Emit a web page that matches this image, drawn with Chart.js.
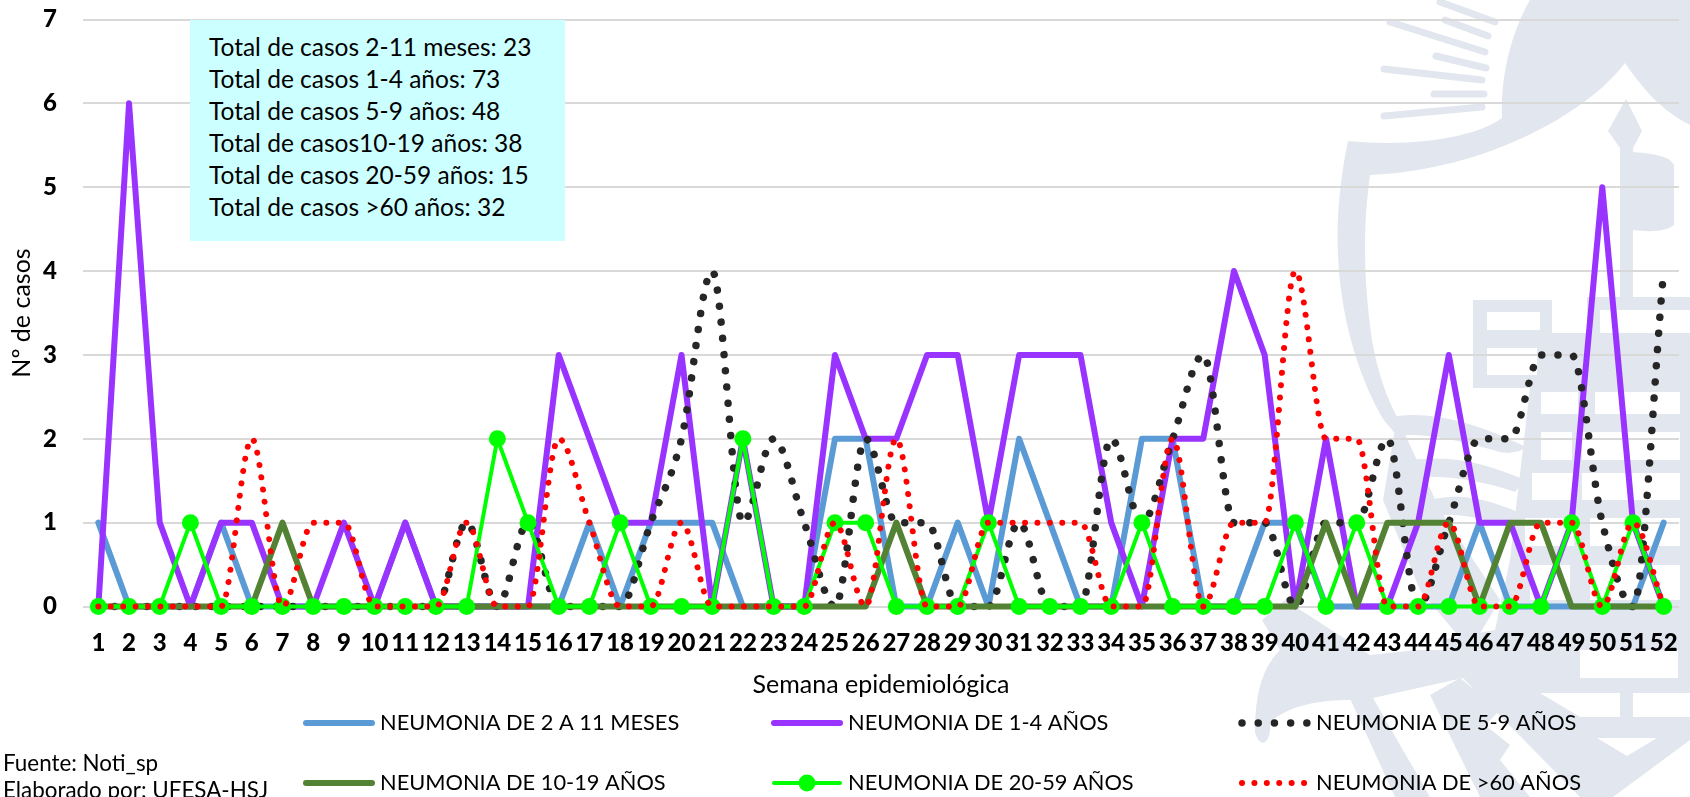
<!DOCTYPE html>
<html><head><meta charset="utf-8">
<script src="https://cdn.jsdelivr.net/npm/chart.js@4/dist/chart.umd.min.js"></script>
<style>
html,body{margin:0;padding:0;background:#fff;overflow:hidden}
#wrap{position:relative;width:1690px;height:797px;overflow:hidden;font-family:Lato,sans-serif;color:#000}
#wm{position:absolute;left:0;top:0}
canvas{position:absolute;left:0;top:0}
.t{position:absolute;white-space:nowrap;line-height:30px;font-size:22.4px}
#box{position:absolute;left:190px;top:20px;width:375px;height:221px;background:#ccffff}
#box div{position:absolute;left:19px;font-size:24.5px;line-height:32px;white-space:nowrap}
</style></head><body>
<div id="wrap">
<svg id="wm" width="1690" height="797" fill="#e2e6ee">
<path d="M1338 254C1336 210 1342 170 1348 141C1420 148 1480 135 1502 118C1500 70 1515 25 1530 0H1690V125C1660 110 1640 85 1625 63C1590 110 1490 170 1370 175C1364 220 1362 270 1372 340C1378 375 1388 400 1397 417L1383 419C1355 370 1340 310 1338 254Z"/>
<g stroke="#e2e6ee" stroke-width="7" stroke-linecap="round" fill="none">
<path d="M1390 22L1485 52"/><path d="M1445 20L1488 36"/><path d="M1440 2L1495 22"/><path d="M1436 56L1486 68"/><path d="M1384 69L1482 80"/><path d="M1434 94L1484 94"/><path d="M1384 116L1482 107"/>
</g>
<path d="M1626 99L1642 131L1633 148V390H1620V148L1608 131Z"/>
<path d="M1633 152C1660 154 1672 158 1674 166V225C1665 232 1650 232 1633 230Z"/>
<path d="M1473 300H1552V333H1690V390H1530V388H1473Z"/>
<path d="M1587 297H1690V333H1587Z"/>
<path d="M1530 388H1690V740L1613 797H1580L1463 678L1440 640L1495 630L1510 560Z"/>
<path d="M1383 419C1420 408 1470 420 1522 445C1530 450 1510 455 1500 452C1460 440 1420 432 1397 436Z"/>
<path d="M1400 462C1450 452 1490 465 1525 480L1515 492C1480 480 1440 474 1408 478Z"/>
<path d="M1430 500C1470 490 1500 505 1525 515L1515 530C1490 520 1460 512 1438 516Z"/>
<path d="M1397 417L1440 510L1500 600L1470 650L1420 590L1383 500Z"/>
<path d="M1255 733C1255 700 1260 670 1280 650L1262 620L1285 600L1370 655L1417 650L1463 650L1463 678L1373 698L1350 700C1320 700 1290 705 1270 722C1272 740 1262 752 1255 733Z"/>
<path d="M1343 683L1373 698L1430 797H1395Z"/>
<path d="M1430 695L1460 678L1500 710L1485 725L1510 745L1500 760L1530 797H1480Z"/>
<g fill="#fff">
<path d="M1487 312H1540V330H1487ZM1487 348H1537V375H1487ZM1600 310H1690V333H1600Z"/>
<path d="M1541 392H1578V414H1541ZM1595 392H1680V414H1595Z"/>
<path d="M1541 432H1572V460H1541ZM1582 432H1680V460H1582Z"/>
<path d="M1532 473H1574V500H1532ZM1582 473H1680V500H1582Z"/>
<path d="M1525 518H1574V546H1525ZM1590 518H1680V546H1590Z"/>
<path d="M1530 565H1570V600H1530ZM1590 565H1680V600H1590Z"/>
<path d="M1580 650H1678V678H1580ZM1540 693H1620V717H1580ZM1633 693H1690V717H1633Z"/>
<path d="M1597 738H1657L1627 756Z"/>
<path d="M1613 797L1690 747V797Z"/>
</g>
</svg>
<canvas id="c" width="1690" height="797"></canvas>
<div id="box"></div>
<div class="t" style="left:3px;top:748px">Fuente: Noti_sp</div>
<div class="t" style="left:3px;top:775px">Elaborado por: UFESA-HSJ</div>
</div>
<script>
const weeks = ['1','2','3','4','5','6','7','8','9','10','11','12','13','14','15','16','17','18','19','20','21','22','23','24','25','26','27','28','29','30','31','32','33','34','35','36','37','38','39','40','41','42','43','44','45','46','47','48','49','50','51','52'];
const n2a11 = [1,0,0,0,1,0,0,0,0,0,1,0,0,0,0,0,1,0,1,1,1,0,0,0,2,2,0,0,1,0,2,1,0,0,2,2,0,0,1,1,0,0,0,0,0,1,0,0,0,0,0,1];
const n1a4  = [0,6,1,0,1,1,0,0,1,0,1,0,0,0,0,3,2,1,1,3,0,2,0,0,3,2,2,3,3,1,3,3,3,1,0,2,2,4,3,0,2,0,0,1,3,1,1,0,1,5,1,0];
const n5a9  = [0,0,0,0,0,0,0,0,0,0,0,0,1,0,1,0,0,0,1,2,4,1,2,1,0,2,1,1,0,0,1,0,0,2,1,2,3,1,1,0,1,1,2,0,1,2,2,3,3,1,0,4];
const n10a19= [0,0,0,0,0,0,1,0,0,0,0,0,0,0,0,0,0,0,0,0,0,0,0,0,0,0,1,0,0,0,0,0,0,0,0,0,0,0,0,0,1,0,1,1,1,0,1,1,0,0,0,0];
const n20a59= [0,0,0,1,0,0,0,0,0,0,0,0,0,2,1,0,0,1,0,0,0,2,0,0,1,1,0,0,0,1,0,0,0,0,1,0,0,0,0,1,0,1,0,0,0,0,0,0,1,0,1,0];
const n60   = [0,0,0,0,0,2,0,1,1,0,0,0,1,0,0,2,1,0,0,1,0,0,0,0,1,0,2,0,0,1,1,1,1,0,0,2,0,1,1,4,2,2,0,0,1,0,0,1,1,0,1,0];
const yTicks = [0,1,2,3,4,5,6,7];
const seriesNames = ['NEUMONIA DE 2 A 11 MESES','NEUMONIA DE 1-4 AÑOS','NEUMONIA DE 5-9 AÑOS','NEUMONIA DE 10-19 AÑOS','NEUMONIA DE 20-59 AÑOS','NEUMONIA DE >60 AÑOS'];
const boxLines = ['Total de casos 2-11 meses: 23','Total de casos 1-4 años: 73','Total de casos 5-9 años: 48','Total de casos10-19 años: 38','Total de casos 20-59 años: 15','Total de casos >60 años: 32'];

const box = document.getElementById('box');
boxLines.forEach((s,i)=>{const d=document.createElement('div');d.textContent=s;d.style.top=(11+i*32)+'px';box.appendChild(d);});

const FONT='Lato';
const legendCols=[303,771,1239], legendRows=[723,783];
const legendPlugin={id:'manualLegend',afterDraw(chart){
  const ctx=chart.ctx;
  chart.data.datasets.forEach((ds,i)=>{
    const x=legendCols[i%3], y=legendRows[Math.floor(i/3)];
    ctx.save();
    ctx.strokeStyle=ds.borderColor;ctx.lineWidth=ds.borderWidth;ctx.lineCap='round';
    if(ds.borderDash)ctx.setLineDash(ds.borderDash);
    ctx.beginPath();ctx.moveTo(x+3,y);ctx.lineTo(x+69,y);ctx.stroke();
    ctx.setLineDash([]);
    if(ds.pointRadius>0){ctx.fillStyle=ds.pointBackgroundColor;ctx.beginPath();ctx.arc(x+36,y,ds.pointRadius,0,Math.PI*2);ctx.fill();}
    ctx.fillStyle='#000';ctx.font='21.8px '+FONT;ctx.textBaseline='middle';ctx.textAlign='left';
    ctx.fillText(ds.label,x+77,y);
    ctx.restore();
  });
}};
const mk=(i,data,color,width,extra)=>Object.assign({label:seriesNames[i],data,borderColor:color,backgroundColor:color,borderWidth:width,pointRadius:0,pointHoverRadius:0,fill:false,tension:0,order:6-i,clip:false,borderCapStyle:'round',borderJoinStyle:'round'},extra||{});
new Chart(document.getElementById('c'),{
  type:'line',
  data:{labels:weeks,datasets:[
    mk(0,n2a11,'#5b9bd5',6),
    mk(1,n1a4,'#9933ff',6),
    mk(2,n5a9,'#262626',7.5,{borderDash:[0.01,16.2],cubicInterpolationMode:'monotone'}),
    mk(3,n10a19,'#548235',6),
    mk(4,n20a59,'#00ff00',4,{pointRadius:8.5,pointBackgroundColor:'#00ff00',pointBorderColor:'#00ff00',pointBorderWidth:0}),
    mk(5,n60,'#ff0000',6,{borderDash:[0.01,12.4],cubicInterpolationMode:'monotone'})
  ]},
  plugins:[legendPlugin],
  options:{
    responsive:false,animation:false,
    layout:{padding:{top:19.5,right:11,bottom:0,left:0}},
    plugins:{legend:{display:false},tooltip:{enabled:false}},
    scales:{
      x:{position:'bottom',offset:true,grid:{display:false,offset:false},border:{display:false},
        afterFit(a){a.height=190.5;a.paddingLeft=0;a.paddingRight=0;},
        ticks:{color:'#000',font:{family:FONT,size:24,weight:'900'},maxRotation:0,minRotation:0,autoSkip:false,padding:14},
        title:{display:true,text:'Semana epidemiológica',color:'#000',font:{family:FONT,size:25},padding:{top:0,bottom:97}}},
      y:{min:0,max:7,grid:{color:'#d9d9d9',lineWidth:2,drawTicks:false},border:{display:false},
        afterFit(a){a.width=83;a.paddingTop=0;a.paddingBottom=0;},
        afterBuildTicks(a){a.ticks=yTicks.map(v=>({value:v}));},
        ticks:{color:'#000',font:{family:FONT,size:24,weight:'900'},padding:26},
        title:{display:true,text:'Nº de casos',color:'#000',font:{family:FONT,size:25},padding:{top:7,bottom:0}}}
    }
  }
});
</script>
</body></html>
